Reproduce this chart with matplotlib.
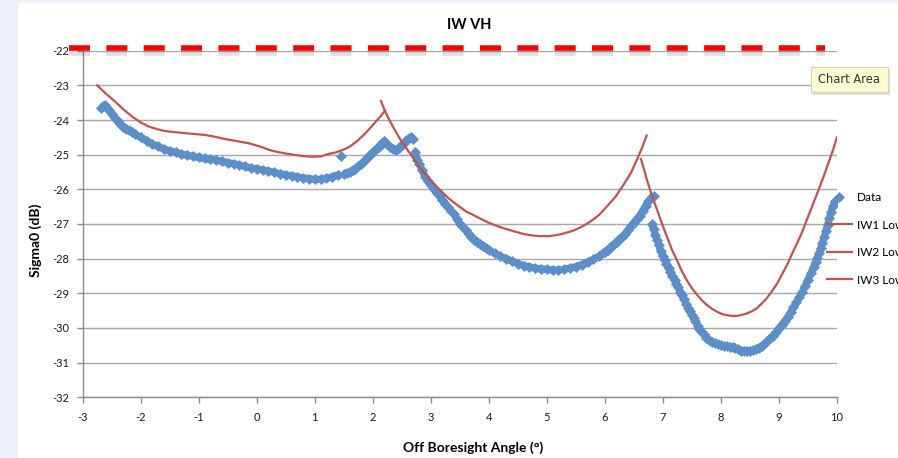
import matplotlib
matplotlib.use("Agg")
import matplotlib.pyplot as plt
from matplotlib.patches import Rectangle
import numpy as np

plt.rcParams['font.family'] = ['Lato', 'DejaVu Sans']
plt.rcParams['lines.scale_dashes'] = False

# ---------------- data ----------------
title = "IW VH"
x_label = "Off Boresight Angle (°)"
y_label = "Sigma0 (dB)"
x_ticks = list(range(-3, 11))
y_ticks = list(range(-32, -21))
series_names = ["Data", "IW1 Low", "IW2 Low", "IW3 Low"]

data_x = [
    -2.68, -2.65, -2.62, -2.58, -2.55, -2.5, -2.45, -2.4, -2.35, -2.3, -2.25, -2.2, -2.15, -2.1,
    -2.0, -1.9, -1.8, -1.7, -1.6, -1.5, -1.4, -1.3, -1.2, -1.1, -1.0, -0.9, -0.8, -0.7, -0.6,
    -0.5, -0.4, -0.3, -0.2, -0.1, 0.0, 0.1, 0.2, 0.3, 0.4, 0.5, 0.6, 0.7, 0.8, 0.9, 1.0, 1.1,
    1.2, 1.3, 1.4, 1.45,
    1.5, 1.55, 1.6, 1.65, 1.7, 1.75, 1.8, 1.85, 1.9, 1.95, 2.0, 2.05, 2.1, 2.15, 2.2, 2.25,
    2.3, 2.35, 2.4, 2.45, 2.5, 2.55, 2.6, 2.65, 2.7,
    2.73, 2.77, 2.8, 2.85, 2.9, 2.95, 3.0, 3.05, 3.1, 3.15, 3.2, 3.25, 3.3, 3.35, 3.4, 3.45,
    3.5, 3.55, 3.6, 3.65, 3.7, 3.75, 3.8, 3.85, 3.9, 3.95, 4.0, 4.1, 4.2, 4.3, 4.4, 4.5, 4.6,
    4.7, 4.8, 4.9, 5.0, 5.1, 5.2, 5.3, 5.4, 5.5, 5.6, 5.7, 5.8, 5.9, 6.0, 6.05, 6.1, 6.15,
    6.2, 6.25, 6.3, 6.35, 6.4, 6.45, 6.5, 6.55, 6.6, 6.65, 6.7, 6.75, 6.8, 6.85,
    6.81, 6.84, 6.87, 6.9, 6.93, 6.96, 7.0, 7.03, 7.06, 7.1, 7.13, 7.16, 7.2, 7.23, 7.26,
    7.3, 7.33, 7.36, 7.4, 7.43, 7.46, 7.5, 7.53, 7.56, 7.6, 7.63, 7.66, 7.7, 7.75, 7.8,
    7.85, 7.9, 7.95, 8.0, 8.05, 8.1, 8.15, 8.2, 8.25, 8.3, 8.35, 8.4, 8.45, 8.5, 8.55, 8.6,
    8.65, 8.7, 8.75, 8.8, 8.85, 8.9, 8.95, 9.0, 9.05, 9.1, 9.15, 9.2, 9.25, 9.3, 9.35, 9.4,
    9.45, 9.5, 9.55, 9.6, 9.63, 9.66, 9.69, 9.72, 9.75, 9.78, 9.81, 9.84, 9.87, 9.9, 9.93, 9.96,
]
data_y = [
    -23.66, -23.60, -23.58, -23.65, -23.72, -23.82, -23.93, -24.03, -24.12, -24.19, -24.25, -24.30, -24.35, -24.41,
    -24.50, -24.60, -24.69, -24.76, -24.84, -24.89, -24.93, -24.98, -25.01, -25.05, -25.08, -25.11, -25.13, -25.16, -25.19,
    -25.23, -25.26, -25.30, -25.34, -25.38, -25.41, -25.44, -25.48, -25.51, -25.55, -25.58, -25.61, -25.64, -25.67, -25.69, -25.71, -25.71,
    -25.68, -25.64, -25.58, -25.03,
    -25.55, -25.53, -25.50, -25.45, -25.40, -25.34, -25.27, -25.19, -25.10, -25.01, -24.93, -24.85, -24.77, -24.68, -24.60, -24.70,
    -24.78, -24.83, -24.86, -24.80, -24.72, -24.63, -24.55, -24.50, -24.56,
    -24.91, -25.15, -25.27, -25.45, -25.63, -25.77, -25.88, -25.99, -26.11, -26.20, -26.31, -26.41, -26.52, -26.62, -26.71, -26.86,
    -27.00, -27.09, -27.18, -27.28, -27.37, -27.45, -27.51, -27.58, -27.64, -27.70, -27.75, -27.85, -27.93, -28.00, -28.07, -28.14, -28.20,
    -28.24, -28.28, -28.30, -28.31, -28.33, -28.33, -28.31, -28.27, -28.23, -28.17, -28.10, -28.02, -27.93, -27.80, -27.74, -27.66, -27.59,
    -27.52, -27.44, -27.37, -27.28, -27.17, -27.06, -26.96, -26.86, -26.76, -26.62, -26.48, -26.35, -26.24, -26.18,
    -26.99, -27.15, -27.32, -27.45, -27.62, -27.78, -27.93, -28.05, -28.15, -28.28, -28.39, -28.50, -28.63, -28.73, -28.83,
    -28.95, -29.06, -29.17, -29.30, -29.41, -29.51, -29.62, -29.72, -29.81, -29.94, -30.03, -30.10, -30.18, -30.28, -30.35,
    -30.40, -30.43, -30.47, -30.50, -30.51, -30.53, -30.55, -30.56, -30.59, -30.62, -30.65, -30.66, -30.66, -30.65, -30.64, -30.61,
    -30.57, -30.52, -30.46, -30.38, -30.30, -30.22, -30.12, -30.01, -29.91, -29.80, -29.69, -29.55, -29.40, -29.26, -29.12, -28.96,
    -28.79, -28.61, -28.42, -28.23, -28.10, -27.97, -27.84, -27.70, -27.55, -27.38, -27.20, -27.02, -26.83, -26.64, -26.48, -26.35,
]

iw1_x = [-2.75, -2.6, -2.44, -2.3, -2.15, -2.0, -1.86, -1.7, -1.58, -1.4, -1.29, -1.1, -0.89, -0.7,
         -0.54, -0.34, -0.14, 0.05, 0.21, 0.38, 0.55, 0.75, 0.95, 1.1, 1.26, 1.35, 1.49, 1.6, 1.72,
         1.85, 1.95, 2.05, 2.13, 2.21]
iw1_y = [-23.00, -23.24, -23.47, -23.69, -23.90, -24.07, -24.19, -24.27, -24.32, -24.35, -24.37, -24.40, -24.43, -24.49,
         -24.55, -24.61, -24.67, -24.76, -24.86, -24.93, -24.98, -25.03, -25.06, -25.05, -24.97, -24.94, -24.86, -24.77, -24.62,
         -24.42, -24.24, -24.05, -23.90, -23.73]

iw2_x = [2.14, 2.2, 2.27, 2.34, 2.41, 2.48, 2.56, 2.63, 2.70, 2.78, 2.87, 2.98, 3.10, 3.16, 3.3, 3.45,
         3.62, 3.73, 3.87, 4.02, 4.16, 4.31, 4.45, 4.60, 4.75, 4.88, 5.03, 5.17, 5.3, 5.46, 5.6, 5.75,
         5.9, 6.03, 6.18, 6.32, 6.45, 6.55, 6.64, 6.72]
iw2_y = [-23.45, -23.70, -23.95, -24.17, -24.38, -24.58, -24.77, -24.94, -25.10, -25.30, -25.49, -25.72, -25.92, -26.02, -26.25, -26.45,
         -26.65, -26.74, -26.86, -26.98, -27.07, -27.15, -27.22, -27.29, -27.33, -27.35, -27.35, -27.32, -27.27, -27.19, -27.08, -26.93,
         -26.74, -26.50, -26.22, -25.87, -25.52, -25.15, -24.80, -24.45]

iw3_x = [6.62, 6.67, 6.72, 6.78, 6.84, 6.90, 6.98, 7.07, 7.15, 7.24, 7.32, 7.41, 7.50, 7.59, 7.67, 7.76,
         7.85, 7.93, 8.02, 8.10, 8.19, 8.28, 8.36, 8.45, 8.53, 8.62, 8.70, 8.79, 8.88, 8.97, 9.05, 9.14,
         9.22, 9.31, 9.40, 9.48, 9.57, 9.66, 9.72, 9.77, 9.85, 9.93, 10.0]
iw3_y = [-25.12, -25.40, -25.70, -26.02, -26.32, -26.59, -26.98, -27.37, -27.72, -28.04, -28.34, -28.62, -28.85, -29.05, -29.20, -29.34,
         -29.45, -29.53, -29.60, -29.63, -29.65, -29.65, -29.62, -29.58, -29.52, -29.43, -29.30, -29.14, -28.94, -28.71, -28.46, -28.18,
         -27.88, -27.56, -27.23, -26.88, -26.50, -26.11, -25.85, -25.63, -25.25, -24.87, -24.50]

# ---------------- style ----------------
W, H = 898, 458
blue = '#5a8fc9'
red = '#c4524e'
gray = '#8c8c8c'
grid_gray = '#a8a8a8'

fig = plt.figure(figsize=(W / 100, H / 100), dpi=100, facecolor='#edf1f7')
# white chart area (behind everything)
fig.patches.append(Rectangle((18 / W, 0), 1 - 18 / W, 1 - 3 / H, transform=fig.transFigure,
                             facecolor='white', edgecolor='none', zorder=-10))

L, R, T, B = 82.7, 837.0, 50.7, 397.3
ax = fig.add_axes([L / W, 1 - B / H, (R - L) / W, (B - T) / H])
ax.set_facecolor('none')
ax.set_zorder(1)

# dense marker cloud: the closely packed diamonds form a continuous band,
# emulated by a thick backing stroke between neighbouring samples
dx_arr = np.asarray(data_x, dtype=float)
dy_arr = np.asarray(data_y, dtype=float)
bx, by = [dx_arr[0]], [dy_arr[0]]
for i in range(1, len(dx_arr)):
    if dx_arr[i] <= dx_arr[i - 1] or abs(dy_arr[i] - dy_arr[i - 1]) > 0.3:
        bx.append(np.nan)
        by.append(np.nan)
    bx.append(dx_arr[i])
    by.append(dy_arr[i])
ax.plot(bx, by, color=blue, lw=5.2, solid_capstyle='butt', solid_joinstyle='round', zorder=2.9)

ax.plot(data_x, data_y, linestyle='none', marker='D', ms=5.0, color=blue,
        mec=blue, mew=0.5, label=series_names[0], zorder=3)
ax.plot(iw1_x, iw1_y, color=red, lw=1.6, label=series_names[1], zorder=4)
ax.plot(iw2_x, iw2_y, color=red, lw=1.6, label=series_names[2], zorder=4)
ax.plot(iw3_x, iw3_y, color=red, lw=1.6, label=series_names[3], zorder=4)

ax.set_xlim(x_ticks[0], x_ticks[-1])
ax.set_ylim(y_ticks[0], y_ticks[-1])
ax.set_xticks(x_ticks)
ax.set_yticks(y_ticks)
ax.set_xticklabels([str(v) for v in x_ticks])
ax.set_yticklabels([str(v) for v in y_ticks])

for s in ['top', 'right']:
    ax.spines[s].set_visible(False)
for s in ['left', 'bottom']:
    ax.spines[s].set_color(gray)
    ax.spines[s].set_linewidth(1.0)

ax.yaxis.grid(True, color=grid_gray, lw=1.0)
ax.set_axisbelow(True)
ax.tick_params(axis='both', direction='out', length=4, width=1.0, color=gray,
               labelsize=8, labelcolor='#1a1a1a')
ax.tick_params(axis='x', pad=6.5)
ax.tick_params(axis='y', pad=5.5)

# top red dashed decoration (with soft shadow)
ax.plot([-0.018, 0.984], [0.995, 0.995], transform=ax.transAxes, clip_on=False,
        color='#000000', alpha=0.12, lw=5.5, dashes=(15.1, 11.8), dash_capstyle='butt', zorder=5)
ax.plot([-0.018, 0.984], [1.007, 1.007], transform=ax.transAxes, clip_on=False,
        color='#ff0000', lw=4.0, dashes=(15.1, 11.8), dash_capstyle='butt', zorder=6)

# titles
fig.text(469 / W, 1 - 25 / H, title, ha='center', va='center', fontsize=10.5, fontweight='bold')
fig.text(473 / W, 1 - 448 / H, x_label, ha='center', va='center', fontsize=10, fontweight='bold')
fig.text(36 / W, 1 - 240 / H, y_label, ha='center', va='center', rotation=90,
         fontsize=10, fontweight='bold')

# legend (clipped by the right edge, as in the original screenshot)
fig.legend(handles=ax.get_lines()[1:5], labels=series_names, loc='upper left',
           bbox_to_anchor=(827 / W, 1 - 192 / H), frameon=False, fontsize=8.5,
           borderpad=0, borderaxespad=0, handlelength=2.1, handletextpad=0.4,
           labelspacing=1.4, numpoints=1)

# "Chart Area" tooltip
tx0, ty0, tx1, ty1 = 811, 67, 888, 92
fig.patches.append(Rectangle(((tx0 + 2) / W, 1 - (ty1 + 3) / H), (tx1 - tx0) / W, (ty1 - ty0) / H,
                             transform=fig.transFigure, facecolor='#000000', alpha=0.12,
                             edgecolor='none', zorder=8))
fig.patches.append(Rectangle((tx0 / W, 1 - ty1 / H), (tx1 - tx0) / W, (ty1 - ty0) / H,
                             transform=fig.transFigure, facecolor='#fdfbd2', edgecolor='#d9d6a6',
                             lw=0.8, zorder=9))
fig.text((tx0 + tx1) / 2 / W, 1 - (ty0 + ty1) / 2 / H, "Chart Area", ha='center', va='center',
         fontsize=8.3, color='#333333', family='DejaVu Sans', zorder=10)

fig.savefig('out.png', dpi=100, facecolor=fig.get_facecolor())
